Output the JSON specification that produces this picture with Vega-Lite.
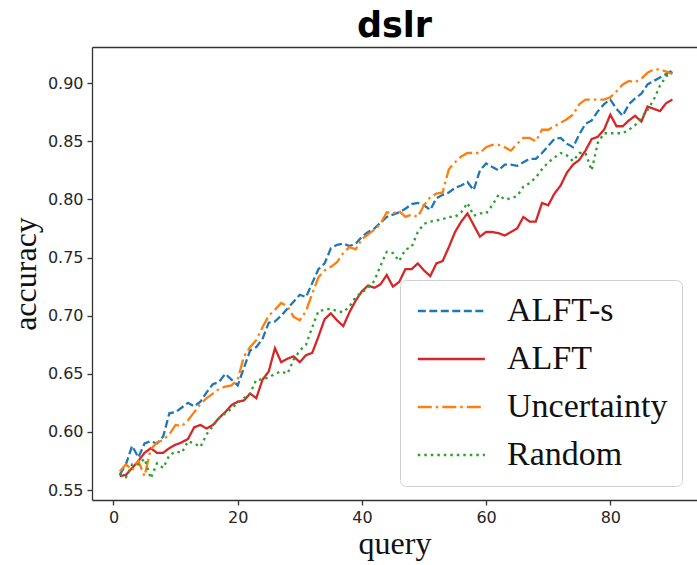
{
"$schema": "https://vega.github.io/schema/vega-lite/v6.json",
"autosize": "none",
"width": 605,
"height": 453,
"padding": {"left": 92, "top": 47, "right": 0, "bottom": 65},
"title": {"text": "dslr", "font": "DejaVu Sans", "fontSize": 35, "fontWeight": "bold", "color": "#000", "anchor": "middle", "offset": 3},
"data": {"values": [
{"q":1,"ALFT-s":0.563,"ALFT":0.562,"Uncertainty":0.566,"Random":0.564},
{"q":2,"ALFT-s":0.572,"ALFT":0.563,"Uncertainty":0.572,"Random":0.561},
{"q":3,"ALFT-s":0.588,"ALFT":0.569,"Uncertainty":0.567,"Random":0.572},
{"q":4,"ALFT-s":0.578,"ALFT":0.575,"Uncertainty":0.575,"Random":0.572},
{"q":5,"ALFT-s":0.590,"ALFT":0.582,"Uncertainty":0.562,"Random":0.577},
{"q":6,"ALFT-s":0.592,"ALFT":0.586,"Uncertainty":0.585,"Random":0.560},
{"q":7,"ALFT-s":0.590,"ALFT":0.582,"Uncertainty":0.591,"Random":0.573},
{"q":8,"ALFT-s":0.596,"ALFT":0.582,"Uncertainty":0.593,"Random":0.569},
{"q":9,"ALFT-s":0.616,"ALFT":0.586,"Uncertainty":0.598,"Random":0.580},
{"q":10,"ALFT-s":0.617,"ALFT":0.589,"Uncertainty":0.606,"Random":0.583},
{"q":11,"ALFT-s":0.621,"ALFT":0.591,"Uncertainty":0.605,"Random":0.582},
{"q":12,"ALFT-s":0.625,"ALFT":0.594,"Uncertainty":0.610,"Random":0.592},
{"q":13,"ALFT-s":0.622,"ALFT":0.604,"Uncertainty":0.617,"Random":0.590},
{"q":14,"ALFT-s":0.626,"ALFT":0.606,"Uncertainty":0.624,"Random":0.587},
{"q":15,"ALFT-s":0.634,"ALFT":0.603,"Uncertainty":0.629,"Random":0.598},
{"q":16,"ALFT-s":0.641,"ALFT":0.606,"Uncertainty":0.633,"Random":0.605},
{"q":17,"ALFT-s":0.643,"ALFT":0.612,"Uncertainty":0.637,"Random":0.612},
{"q":18,"ALFT-s":0.650,"ALFT":0.617,"Uncertainty":0.639,"Random":0.616},
{"q":19,"ALFT-s":0.645,"ALFT":0.623,"Uncertainty":0.640,"Random":0.620},
{"q":20,"ALFT-s":0.640,"ALFT":0.626,"Uncertainty":0.645,"Random":0.625},
{"q":21,"ALFT-s":0.655,"ALFT":0.627,"Uncertainty":0.665,"Random":0.629},
{"q":22,"ALFT-s":0.670,"ALFT":0.633,"Uncertainty":0.673,"Random":0.633},
{"q":23,"ALFT-s":0.673,"ALFT":0.629,"Uncertainty":0.679,"Random":0.645},
{"q":24,"ALFT-s":0.680,"ALFT":0.645,"Uncertainty":0.690,"Random":0.645},
{"q":25,"ALFT-s":0.694,"ALFT":0.652,"Uncertainty":0.700,"Random":0.647},
{"q":26,"ALFT-s":0.695,"ALFT":0.672,"Uncertainty":0.705,"Random":0.650},
{"q":27,"ALFT-s":0.700,"ALFT":0.660,"Uncertainty":0.711,"Random":0.652},
{"q":28,"ALFT-s":0.706,"ALFT":0.663,"Uncertainty":0.708,"Random":0.650},
{"q":29,"ALFT-s":0.712,"ALFT":0.665,"Uncertainty":0.699,"Random":0.662},
{"q":30,"ALFT-s":0.718,"ALFT":0.660,"Uncertainty":0.696,"Random":0.670},
{"q":31,"ALFT-s":0.716,"ALFT":0.666,"Uncertainty":0.704,"Random":0.675},
{"q":32,"ALFT-s":0.728,"ALFT":0.668,"Uncertainty":0.719,"Random":0.690},
{"q":33,"ALFT-s":0.740,"ALFT":0.682,"Uncertainty":0.733,"Random":0.704},
{"q":34,"ALFT-s":0.745,"ALFT":0.697,"Uncertainty":0.739,"Random":0.705},
{"q":35,"ALFT-s":0.758,"ALFT":0.702,"Uncertainty":0.742,"Random":0.706},
{"q":36,"ALFT-s":0.761,"ALFT":0.696,"Uncertainty":0.746,"Random":0.704},
{"q":37,"ALFT-s":0.762,"ALFT":0.691,"Uncertainty":0.754,"Random":0.703},
{"q":38,"ALFT-s":0.760,"ALFT":0.703,"Uncertainty":0.759,"Random":0.708},
{"q":39,"ALFT-s":0.762,"ALFT":0.713,"Uncertainty":0.757,"Random":0.716},
{"q":40,"ALFT-s":0.768,"ALFT":0.721,"Uncertainty":0.766,"Random":0.720},
{"q":41,"ALFT-s":0.772,"ALFT":0.726,"Uncertainty":0.770,"Random":0.724},
{"q":42,"ALFT-s":0.775,"ALFT":0.724,"Uncertainty":0.774,"Random":0.730},
{"q":43,"ALFT-s":0.780,"ALFT":0.727,"Uncertainty":0.779,"Random":0.743},
{"q":44,"ALFT-s":0.785,"ALFT":0.735,"Uncertainty":0.789,"Random":0.755},
{"q":45,"ALFT-s":0.787,"ALFT":0.725,"Uncertainty":0.788,"Random":0.754},
{"q":46,"ALFT-s":0.789,"ALFT":0.729,"Uncertainty":0.790,"Random":0.747},
{"q":47,"ALFT-s":0.792,"ALFT":0.740,"Uncertainty":0.785,"Random":0.757},
{"q":48,"ALFT-s":0.796,"ALFT":0.740,"Uncertainty":0.787,"Random":0.759},
{"q":49,"ALFT-s":0.797,"ALFT":0.745,"Uncertainty":0.785,"Random":0.772},
{"q":50,"ALFT-s":0.795,"ALFT":0.739,"Uncertainty":0.795,"Random":0.779},
{"q":51,"ALFT-s":0.791,"ALFT":0.734,"Uncertainty":0.802,"Random":0.781},
{"q":52,"ALFT-s":0.801,"ALFT":0.745,"Uncertainty":0.805,"Random":0.782},
{"q":53,"ALFT-s":0.804,"ALFT":0.747,"Uncertainty":0.806,"Random":0.783},
{"q":54,"ALFT-s":0.806,"ALFT":0.759,"Uncertainty":0.826,"Random":0.785},
{"q":55,"ALFT-s":0.810,"ALFT":0.772,"Uncertainty":0.832,"Random":0.785},
{"q":56,"ALFT-s":0.812,"ALFT":0.781,"Uncertainty":0.837,"Random":0.789},
{"q":57,"ALFT-s":0.815,"ALFT":0.788,"Uncertainty":0.840,"Random":0.797},
{"q":58,"ALFT-s":0.808,"ALFT":0.778,"Uncertainty":0.840,"Random":0.786},
{"q":59,"ALFT-s":0.825,"ALFT":0.768,"Uncertainty":0.840,"Random":0.788},
{"q":60,"ALFT-s":0.831,"ALFT":0.772,"Uncertainty":0.845,"Random":0.788},
{"q":61,"ALFT-s":0.828,"ALFT":0.772,"Uncertainty":0.847,"Random":0.795},
{"q":62,"ALFT-s":0.825,"ALFT":0.771,"Uncertainty":0.847,"Random":0.804},
{"q":63,"ALFT-s":0.830,"ALFT":0.769,"Uncertainty":0.845,"Random":0.800},
{"q":64,"ALFT-s":0.830,"ALFT":0.772,"Uncertainty":0.842,"Random":0.801},
{"q":65,"ALFT-s":0.829,"ALFT":0.775,"Uncertainty":0.848,"Random":0.803},
{"q":66,"ALFT-s":0.832,"ALFT":0.785,"Uncertainty":0.853,"Random":0.811},
{"q":67,"ALFT-s":0.835,"ALFT":0.781,"Uncertainty":0.853,"Random":0.814},
{"q":68,"ALFT-s":0.835,"ALFT":0.781,"Uncertainty":0.850,"Random":0.819},
{"q":69,"ALFT-s":0.840,"ALFT":0.797,"Uncertainty":0.860,"Random":0.826},
{"q":70,"ALFT-s":0.846,"ALFT":0.795,"Uncertainty":0.860,"Random":0.832},
{"q":71,"ALFT-s":0.852,"ALFT":0.805,"Uncertainty":0.863,"Random":0.836},
{"q":72,"ALFT-s":0.853,"ALFT":0.812,"Uncertainty":0.866,"Random":0.840},
{"q":73,"ALFT-s":0.848,"ALFT":0.823,"Uncertainty":0.869,"Random":0.838},
{"q":74,"ALFT-s":0.845,"ALFT":0.830,"Uncertainty":0.873,"Random":0.833},
{"q":75,"ALFT-s":0.856,"ALFT":0.834,"Uncertainty":0.882,"Random":0.840},
{"q":76,"ALFT-s":0.865,"ALFT":0.842,"Uncertainty":0.886,"Random":0.840},
{"q":77,"ALFT-s":0.868,"ALFT":0.852,"Uncertainty":0.886,"Random":0.825},
{"q":78,"ALFT-s":0.876,"ALFT":0.854,"Uncertainty":0.886,"Random":0.849},
{"q":79,"ALFT-s":0.882,"ALFT":0.860,"Uncertainty":0.886,"Random":0.857},
{"q":80,"ALFT-s":0.886,"ALFT":0.873,"Uncertainty":0.888,"Random":0.857},
{"q":81,"ALFT-s":0.878,"ALFT":0.863,"Uncertainty":0.893,"Random":0.857},
{"q":82,"ALFT-s":0.872,"ALFT":0.863,"Uncertainty":0.899,"Random":0.857},
{"q":83,"ALFT-s":0.882,"ALFT":0.868,"Uncertainty":0.902,"Random":0.860},
{"q":84,"ALFT-s":0.887,"ALFT":0.872,"Uncertainty":0.901,"Random":0.864},
{"q":85,"ALFT-s":0.891,"ALFT":0.867,"Uncertainty":0.904,"Random":0.870},
{"q":86,"ALFT-s":0.899,"ALFT":0.880,"Uncertainty":0.909,"Random":0.877},
{"q":87,"ALFT-s":0.902,"ALFT":0.878,"Uncertainty":0.912,"Random":0.886},
{"q":88,"ALFT-s":0.905,"ALFT":0.876,"Uncertainty":0.912,"Random":0.898},
{"q":89,"ALFT-s":0.908,"ALFT":0.883,"Uncertainty":0.910,"Random":0.906},
{"q":90,"ALFT-s":0.911,"ALFT":0.886,"Uncertainty":0.908,"Random":0.910}
]},
"transform": [{"fold": ["ALFT-s", "ALFT", "Uncertainty", "Random"], "as": ["s", "acc"]}],
"layer": [
{
"mark": {"type": "line", "strokeWidth": 2.3, "clip": true},
"encoding": {
"x": {"field": "q", "type": "quantitative", "scale": {"domain": [-3.46, 93.96], "nice": false, "zero": false},
  "axis": {"orient": "bottom", "values": [0, 20, 40, 60, 80], "title": "query", "grid": false}},
"y": {"field": "acc", "type": "quantitative", "scale": {"domain": [0.5414, 0.9312], "nice": false, "zero": false},
  "axis": {"values": [0.55, 0.6, 0.65, 0.7, 0.75, 0.8, 0.85, 0.9], "format": ".2f", "title": "accuracy", "grid": false}},
"color": {"field": "s", "type": "nominal", "scale": {"domain": ["ALFT-s", "ALFT", "Uncertainty", "Random"], "range": ["#1f77b4", "#d62728", "#ff7f0e", "#2ca02c"]}, "title": null},
"strokeDash": {"field": "s", "type": "nominal", "scale": {"domain": ["ALFT-s", "ALFT", "Uncertainty", "Random"], "range": [[8, 3.5], [1, 0], [14, 4, 2.5, 4], [2.5, 4]]}, "title": null}
}
},
{
"mark": {"type": "line", "opacity": 0},
"encoding": {
"x": {"field": "q", "type": "quantitative", "axis": {"orient": "top", "labels": false, "ticks": false, "domain": true, "title": null, "grid": false}},
"y": {"field": "acc", "type": "quantitative"},
"detail": {"field": "s"}
}
}
],
"resolve": {"axis": {"x": "independent"}},
"config": {
"view": {"stroke": null},
"axis": {"labelFont": "DejaVu Sans", "labelFontSize": 16, "labelColor": "#262626", "domainColor": "#333", "domainWidth": 1.3, "tickColor": "#333", "tickWidth": 1.3, "tickSize": 5, "labelPadding": 4,
  "titleFont": "Liberation Serif", "titleFontSize": 32, "titleFontWeight": "normal", "titleColor": "#111"},
"axisX": {"titlePadding": 3},
"axisY": {"titlePadding": 5},
"legend": {"orient": "none", "legendX": 308, "legendY": 233, "labelFont": "Liberation Serif", "labelFontSize": 34, "labelColor": "#111",
  "symbolType": "M-1.2,0H4.9", "symbolSize": 484, "symbolStrokeWidth": 2.3, "labelOffset": 59, "rowPadding": 14, "padding": 14,
  "fillColor": "#fff", "strokeColor": "#d0d0d0", "cornerRadius": 6, "labelLimit": 400}
}
}
